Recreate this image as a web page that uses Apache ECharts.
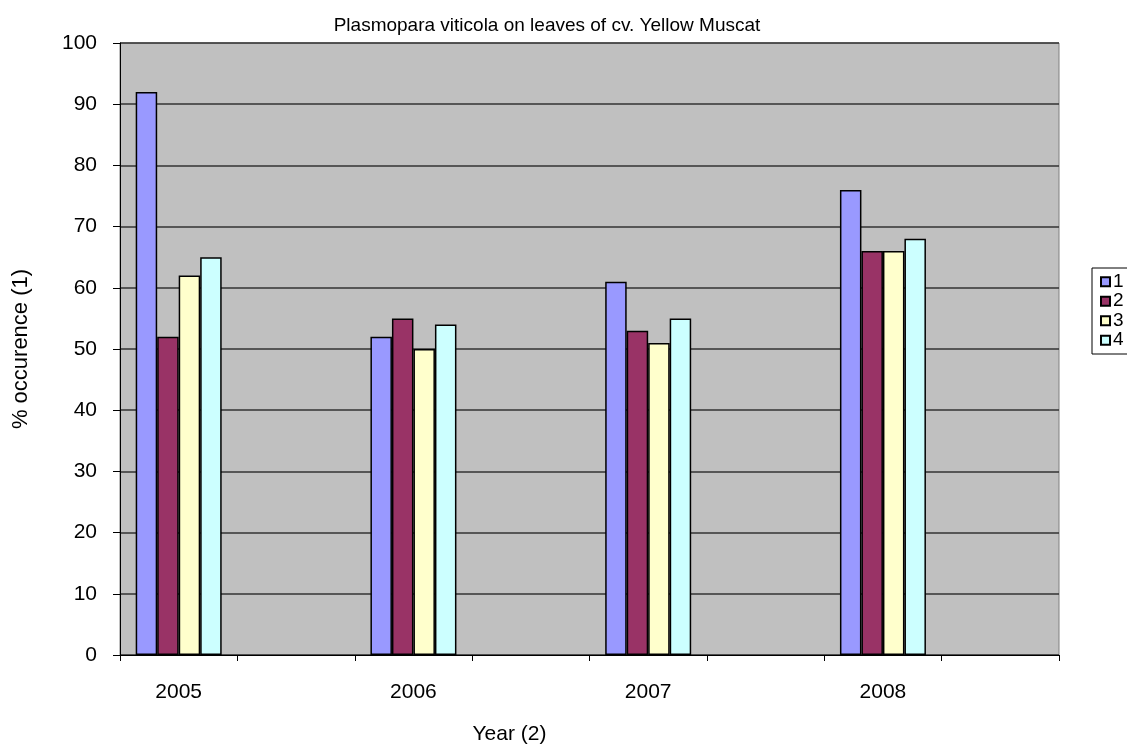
<!DOCTYPE html>
<html>
<head>
<meta charset="utf-8">
<script src="https://cdn.jsdelivr.net/npm/echarts@6/dist/echarts.min.js"></script>
<style>
html,body{margin:0;padding:0;background:#fff;}
#chart{width:1127px;height:744px;}
</style>
</head>
<body>
<div id="chart"></div>
<script>
const categories = ["2005", "", "2006", "", "2007", "", "2008", ""];
const series1 = [92, null, 52, null, 61, null, 76, null];
const series2 = [52, null, 55, null, 53, null, 66, null];
const series3 = [62, null, 50, null, 51, null, 66, null];
const series4 = [65, null, 54, null, 55, null, 68, null];
const seriesNames = ["1", "2", "3", "4"];
const seriesColors = ["#9999ff", "#993366", "#ffffcc", "#ccffff"];
const yTicks = [0, 10, 20, 30, 40, 50, 60, 70, 80, 90, 100];

const font = "Liberation Sans, Arial, sans-serif";
const chart = echarts.init(document.getElementById('chart'), null, {renderer: 'canvas'});
const allData = [series1, series2, series3, series4];

chart.setOption({
  animation: false,
  backgroundColor: '#ffffff',
  title: {
    text: 'Plasmopara viticola on leaves of cv. Yellow Muscat',
    left: 542, top: 11, textAlign: 'center',
    textStyle: {fontFamily: font, fontSize: 19, fontWeight: 'normal', color: '#000'}
  },
  legend: {
    orient: 'vertical',
    left: 1092, top: 268,
    itemWidth: 9, itemHeight: 9, itemGap: 0,
    padding: [4, 8, 4, 8],
    borderColor: '#000', borderWidth: 1,
    icon: 'rect',
    textStyle: {fontFamily: font, fontSize: 19, lineHeight: 19.5, color: '#000', padding: [0, 0, 0, -2]},
    data: seriesNames
  },
  grid: {left: 120, right: 68, top: 43, bottom: 89, containLabel: false, outerBoundsMode: 'none', show: true, backgroundColor: '#c0c0c0', borderColor: '#808080', borderWidth: 1},
  xAxis: {
    type: 'category',
    data: categories,
    boundaryGap: true,
    name: 'Year (2)',
    nameLocation: 'middle',
    nameGap: 69,
    nameTextStyle: {fontFamily: font, fontSize: 21, color: '#000', padding: [0, 160, 0, 0]},
    axisLine: {lineStyle: {color: '#000', width: 1}},
    axisTick: {show: true, interval: 0, length: 6, lineStyle: {color: '#000'}},
    axisLabel: {interval: 0, margin: 27, fontFamily: font, fontSize: 21, color: '#000'},
    splitLine: {show: false}
  },
  yAxis: {
    type: 'value',
    min: yTicks[0], max: yTicks[yTicks.length - 1], interval: 10,
    name: '% occurence (1)',
    nameLocation: 'middle',
    nameGap: 88,
    nameTextStyle: {fontFamily: font, fontSize: 22, color: '#000'},
    axisLine: {show: true, lineStyle: {color: '#000', width: 1}},
    axisTick: {show: true, length: 7, lineStyle: {color: '#000'}},
    axisLabel: {margin: 23, fontFamily: font, fontSize: 21, color: '#000'},
    splitLine: {show: true, lineStyle: {color: '#333333', width: 1.5}}
  },
  series: allData.map((d, i) => ({
    name: seriesNames[i],
    type: 'bar',
    data: d,
    barWidth: 21.5,
    barGap: '0%',
    itemStyle: {color: seriesColors[i], borderColor: '#000', borderWidth: 1.5}
  }))
});
</script>
</body>
</html>
